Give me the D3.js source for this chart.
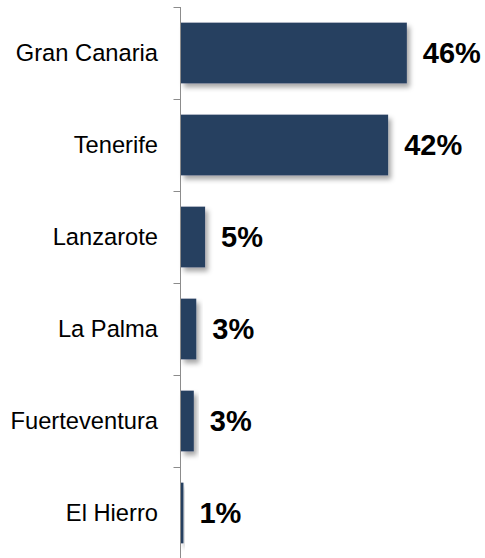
<!DOCTYPE html>
<html>
<head>
<meta charset="utf-8">
<script src="https://cdn.jsdelivr.net/npm/d3@7"></script>
<style>
  body { margin: 0; background: #fff; }
  text { font-family: Arial, "Liberation Sans", sans-serif; }
</style>
</head>
<body>
<svg id="canvas" width="485" height="558"></svg>
<script>
const islands = ['Gran Canaria', 'Tenerife', 'Lanzarote', 'La Palma', 'Fuerteventura', 'El Hierro'];
const shares = [45.9, 42.1, 4.9, 3.1, 2.6, 0.5];
const shareLabels = ['46%', '42%', '5%', '3%', '3%', '1%'];

const canvas = d3.select('#canvas');

const AXIS_X = 180.5;
const BAR_COLOR = '#263f61';

const x = d3.scaleLinear()
  .domain([0, 50])
  .range([AXIS_X + 0.5, AXIS_X + 0.5 + 246]);

const y = d3.scaleBand()
  .domain(islands)
  .range([7, 559])
  .paddingInner(0.34)
  .paddingOuter(0.17);

// soft shadow under the bars
const defs = canvas.append('defs');
const shadow = defs.append('filter')
  .attr('id', 'shadow')
  .attr('x', '-20%').attr('y', '-20%')
  .attr('width', '160%').attr('height', '160%');
shadow.append('feDropShadow')
  .attr('dx', 3)
  .attr('dy', 4)
  .attr('stdDeviation', 2.5)
  .attr('flood-color', '#000')
  .attr('flood-opacity', 0.35);

const data = islands.map((name, i) => ({ name, value: shares[i], label: shareLabels[i] }));

canvas.append('g')
  .selectAll('rect')
  .data(data)
  .join('rect')
  .attr('x', x(0))
  .attr('y', d => y(d.name))
  .attr('width', d => x(d.value) - x(0))
  .attr('height', y.bandwidth())
  .attr('fill', BAR_COLOR)
  .attr('filter', 'url(#shadow)');

// category axis: line with ticks on the band edges
const axis = canvas.append('g').attr('class', 'axis');
const step = y.step();
const edges = d3.range(islands.length + 1).map(i => 7 + i * step);

axis.append('line')
  .attr('x1', AXIS_X).attr('x2', AXIS_X)
  .attr('y1', 7).attr('y2', 559)
  .style('stroke', '#8c8c8c')
  .style('stroke-width', 1);

axis.selectAll('.tick')
  .data(edges)
  .join('line')
  .attr('class', 'tick')
  .attr('x1', AXIS_X - 7).attr('x2', AXIS_X)
  .attr('y1', d => Math.round(d) + 0.5)
  .attr('y2', d => Math.round(d) + 0.5)
  .style('stroke', '#8c8c8c')
  .style('stroke-width', 1);

axis.selectAll('.cat')
  .data(islands)
  .join('text')
  .attr('class', 'cat')
  .attr('x', 158)
  .attr('y', d => y(d) + y.bandwidth() / 2)
  .attr('dy', '0.35em')
  .attr('text-anchor', 'end')
  .style('font-size', '23.7px')
  .style('fill', '#000')
  .text(d => d);

canvas.append('g')
  .selectAll('text')
  .data(data)
  .join('text')
  .attr('x', d => x(d.value) + 16)
  .attr('y', d => y(d.name) + y.bandwidth() / 2)
  .attr('dy', '0.36em')
  .style('font-size', '29px')
  .style('font-weight', 'bold')
  .style('fill', '#000')
  .text(d => d.label);
</script>
</body>
</html>
